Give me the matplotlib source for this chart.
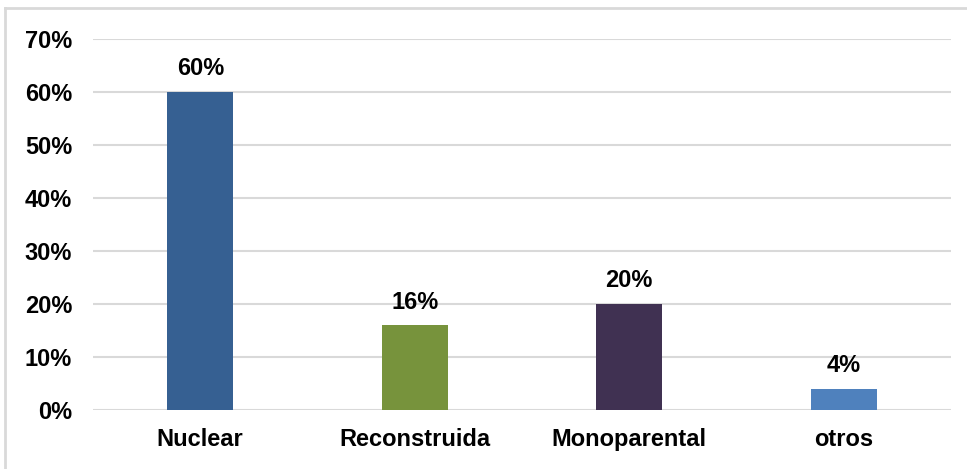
import matplotlib.pyplot as plt
from matplotlib.lines import Line2D

# Data
categories = ["Nuclear", "Reconstruida", "Monoparental", "otros"]
values = [60, 16, 20, 4]
colors = ["#366092", "#77933C", "#403152", "#4F81BD"]
yticks = [0, 10, 20, 30, 40, 50, 60, 70]

plt.rcParams['font.family'] = ['Liberation Sans', 'DejaVu Sans']

fig = plt.figure(figsize=(9.67, 4.69), dpi=100)
ax = fig.add_axes([93 / 967, 59 / 469, (951 - 93) / 967, (410 - 39) / 469])

x = range(len(categories))
bars = ax.bar(x, values, width=0.31, color=colors, zorder=3)

for xi, v in zip(x, values):
    ax.text(xi, v + 2.2, f"{v}%", ha="center", va="bottom",
            fontsize=17, fontweight="bold")

ax.set_xlim(-0.5, len(categories) - 0.5)
ax.set_ylim(0, 70)
ax.set_yticks(yticks)
ax.set_yticklabels([f"{t}%" for t in yticks], fontsize=17, fontweight="bold")
ax.set_xticks(list(x))
ax.set_xticklabels(categories, fontsize=17, fontweight="bold")
ax.tick_params(axis="y", length=0, pad=15)
ax.tick_params(axis="x", length=0, pad=13)

ax.grid(axis="y", color="#D9D9D9", linewidth=1.5, zorder=0)
for s in ax.spines.values():
    s.set_visible(False)

# light frame around the chart
fig.add_artist(Line2D([5 / 967, 1.0], [1 - 8 / 469, 1 - 8 / 469],
                      transform=fig.transFigure, color="#D9D9D9", linewidth=2))
fig.add_artist(Line2D([5 / 967, 5 / 967], [0, 1 - 8 / 469],
                      transform=fig.transFigure, color="#D9D9D9", linewidth=2))

fig.savefig("out.png", dpi=100)
